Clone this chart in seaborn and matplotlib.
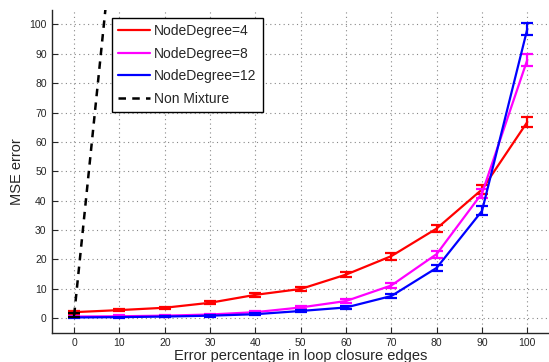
import matplotlib

matplotlib.use("Agg")
import matplotlib.pyplot as plt
import pandas as pd
import seaborn as sns

error_pct = [0, 10, 20, 30, 40, 50, 60, 70, 80, 90, 100]
mse_deg4 = [2.0, 2.7, 3.5, 5.2, 7.9, 9.9, 14.8, 21.1, 30.5, 43.8, 66.8]
mse_deg8 = [0.5, 0.6, 0.8, 1.2, 2.0, 3.6, 5.8, 11.1, 21.8, 42.5, 88.0]
mse_deg12 = [0.2, 0.3, 0.5, 0.8, 1.3, 2.4, 3.6, 7.5, 17.1, 36.5, 98.5]
err_deg4 = [0.5, 0.4, 0.4, 0.5, 0.7, 0.6, 0.8, 1.2, 1.3, 1.5, 1.6]
err_deg8 = [0.3, 0.3, 0.3, 0.3, 0.4, 0.5, 0.6, 0.9, 1.2, 1.6, 2.0]
err_deg12 = [0.2, 0.2, 0.2, 0.3, 0.3, 0.4, 0.5, 0.7, 1.0, 1.5, 2.0]
non_mix_pct = [0, 10]
non_mix_mse = [1.0, 152.0]
non_mix_err = [0.8, 0.0]

series = [
    ("NodeDegree=4", mse_deg4, err_deg4, "#ff0000"),
    ("NodeDegree=8", mse_deg8, err_deg8, "#ff00ff"),
    ("NodeDegree=12", mse_deg12, err_deg12, "#0000ff"),
]

sns.set_style("ticks")
plt.rcParams["font.family"] = ["Liberation Sans", "DejaVu Sans"]

fig = plt.figure(figsize=(5.49, 3.62), dpi=100)
ax = fig.add_axes([51.5 / 549, 1 - 332.7 / 362, 498.5 / 549, 322.9 / 362])

for label, values, errs, color in series:
    frame = pd.DataFrame({"x": error_pct, "y": values})
    sns.lineplot(data=frame, x="x", y="y", ax=ax, color=color, linewidth=1.6,
                 label=label, zorder=3)
    ax.errorbar(error_pct, values, yerr=errs, fmt="none", ecolor=color,
                elinewidth=1.6, capsize=4, capthick=1.6, zorder=3)

nm = pd.DataFrame({"x": non_mix_pct, "y": non_mix_mse})
sns.lineplot(data=nm, x="x", y="y", ax=ax, color="black", linewidth=1.8,
             linestyle=(0, (3, 2.5)), label="Non Mixture", zorder=4)
ax.errorbar(non_mix_pct[:1], non_mix_mse[:1], yerr=non_mix_err[:1], fmt="none",
            ecolor="black", elinewidth=1.6, capsize=4, capthick=1.6, zorder=4)

ax.set_xlim(-5, 105)
ax.set_ylim(-5, 105)
ax.set_xticks(range(0, 101, 10))
ax.set_yticks(range(0, 101, 10))
ax.tick_params(direction="in", length=4, labelsize=7.5, width=0.8)
ax.grid(True, linestyle=(0, (1, 3)), color="#888888", linewidth=0.8)
ax.spines["top"].set_visible(False)
ax.spines["right"].set_visible(False)
for side in ("left", "bottom"):
    ax.spines[side].set_linewidth(1.0)

ax.set_xlabel("Error percentage in loop closure edges", fontsize=10.5, labelpad=1)
ax.set_ylabel("MSE error", fontsize=10.5, labelpad=4)

leg = ax.legend(loc="upper left", bbox_to_anchor=(60.5 / 498.5, 1 - 8 / 322.9),
                fontsize=10, frameon=True, fancybox=False, framealpha=1,
                edgecolor="black", handlelength=2.3, borderpad=0.45,
                labelspacing=0.62, handletextpad=0.3, borderaxespad=0)
leg.get_frame().set_linewidth(1.0)

fig.savefig("out.png", dpi=100)
plt.close(fig)
